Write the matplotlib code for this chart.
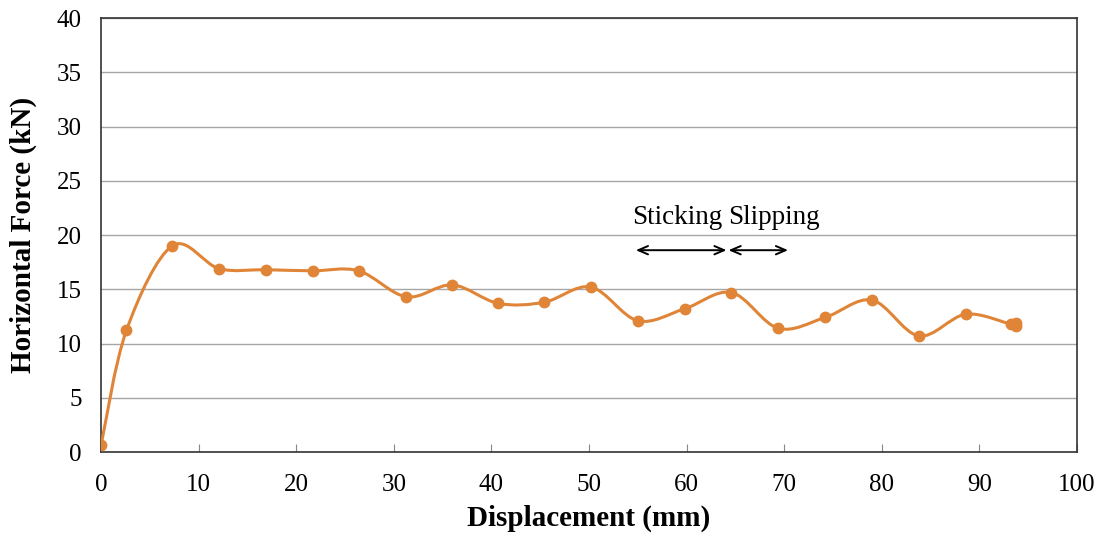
import numpy as np
import matplotlib.pyplot as plt
from matplotlib.path import Path
from matplotlib.patches import PathPatch

plt.rcParams["font.family"] = ["Liberation Serif", "DejaVu Serif"]

# displacement (mm) and horizontal force (kN)
disp = [0.0, 2.6, 7.3, 12.1, 16.9, 21.7, 26.4, 31.3, 36.0, 40.7, 45.4, 50.2,
        55.0, 59.8, 64.6, 69.4, 74.2, 79.0, 83.8, 88.6, 93.2, 93.8, 93.8]
force = [0.6, 11.2, 19.0, 16.9, 16.8, 16.7, 16.7, 14.3, 15.4, 13.7, 13.8, 15.2,
         12.1, 13.2, 14.7, 11.4, 12.4, 14.0, 10.7, 12.7, 11.8, 11.9, 11.6]

color = "#E08537"


def smooth_path(x, y):
    # Excel-style smoothed line: cubic bezier through the points
    x = np.asarray(x, float)
    y = np.asarray(y, float)
    n = len(x)
    verts = [(x[0], y[0])]
    codes = [Path.MOVETO]
    for i in range(n - 1):
        p0 = np.array([x[max(i - 1, 0)], y[max(i - 1, 0)]])
        p1 = np.array([x[i], y[i]])
        p2 = np.array([x[i + 1], y[i + 1]])
        p3 = np.array([x[min(i + 2, n - 1)], y[min(i + 2, n - 1)]])
        c1 = p1 + (p2 - p0) / 6.0
        c2 = p2 - (p3 - p1) / 6.0
        verts += [tuple(c1), tuple(c2), tuple(p2)]
        codes += [Path.CURVE4] * 3
    return Path(verts, codes)


fig = plt.figure(figsize=(11.04, 5.36), dpi=100)
ax = fig.add_axes([0.0915, 0.1567, 0.884, 0.8097])

ax.add_patch(PathPatch(smooth_path(disp, force), facecolor="none",
                       edgecolor=color, lw=2.2, zorder=3))
ax.plot(disp, force, "o", color=color, ms=7.5, zorder=4)

ax.set_xlim(0, 100)
ax.set_ylim(0, 40)
ax.set_xticks(range(0, 101, 10))
ax.set_yticks(range(0, 41, 5))
ax.yaxis.grid(True, color="#a6a6a6", lw=1)
ax.set_axisbelow(True)
for s in ax.spines.values():
    s.set_color("#333333")
    s.set_linewidth(1.2)
ax.tick_params(axis="x", direction="in", length=6, color="#888888",
               labelsize=18, pad=16)
ax.tick_params(axis="y", length=0, labelsize=18, pad=14)

ax.set_xlabel("Displacement (mm)", fontsize=21, fontweight="bold", labelpad=6)
ax.set_ylabel("Horizontal Force (kN)", fontsize=21, fontweight="bold", labelpad=14)

# sticking / slipping arrows
arrow = dict(arrowstyle="<->,head_length=0.7,head_width=0.3",
             color="black", lw=1.4, shrinkA=0, shrinkB=0)
ax.annotate("", xy=(54.8, 18.6), xytext=(64.1, 18.6), arrowprops=arrow)
ax.annotate("", xy=(64.3, 18.6), xytext=(70.4, 18.6), arrowprops=arrow)
ax.text(54.4, 21.6, "Sticking", fontsize=19.5, va="center", ha="left")
ax.text(64.3, 21.6, "Slipping", fontsize=19.5, va="center", ha="left")

fig.savefig("out.png", dpi=100)
